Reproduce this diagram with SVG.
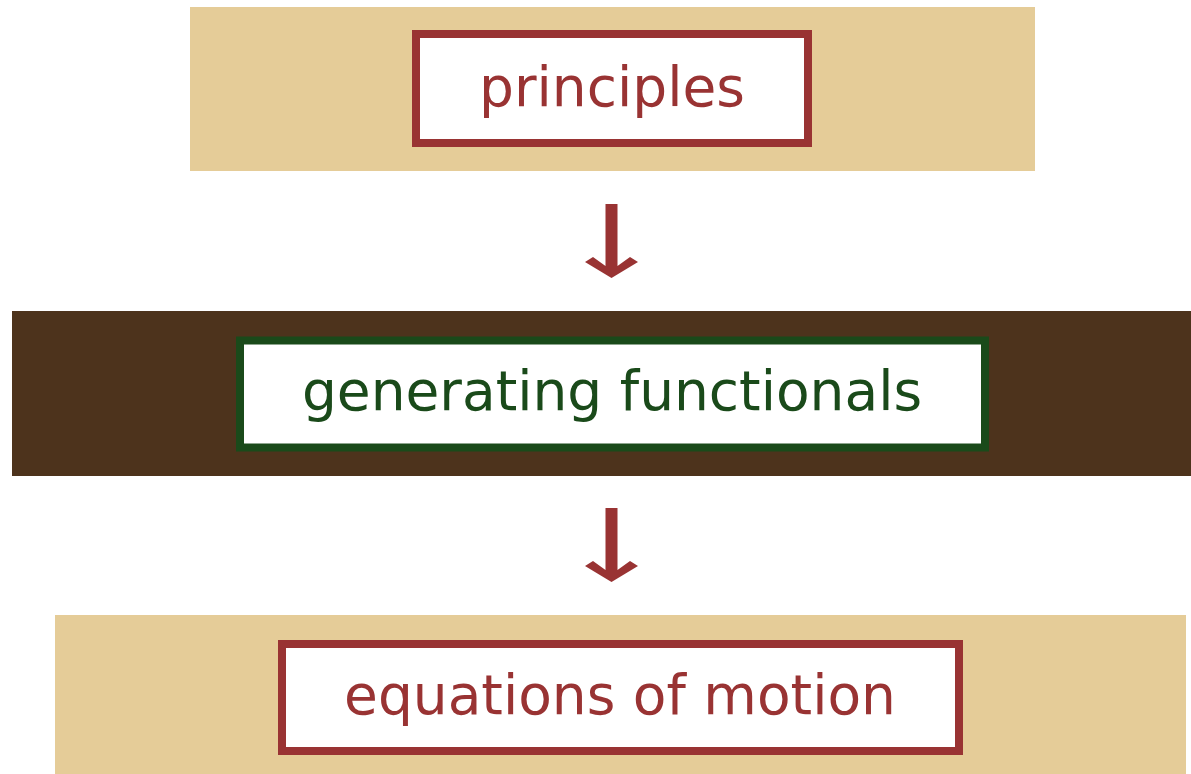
<svg xmlns="http://www.w3.org/2000/svg" width="1191" height="774" viewBox="0 0 1191 774">
<style>
.light{fill:#E5CC98}
.dark{fill:#4D331C}
.box{fill:#fff;stroke-width:8}
.red{stroke:#993333}
.green{stroke:#1A4A1A}
.t{font-family:"DejaVu Sans",sans-serif;font-size:55px;text-anchor:middle}
.tr{fill:#993333}
.tg{fill:#1A4A1A}
.arr{fill:#993333}
</style>
<rect width="1191" height="774" fill="#fff"/>
<g id="principles">
<rect class="light" x="190" y="7" width="845" height="164"/>
<rect class="box red" x="416" y="34" width="392" height="109"/>
<text class="t tr" x="612" y="106">principles</text>
</g>
<g id="generating-functionals">
<rect class="dark" x="12" y="311" width="1179" height="165"/>
<rect class="box green" x="240" y="340.5" width="745" height="107"/>
<text class="t tg" x="612" y="410">generating functionals</text>
</g>
<g id="equations-of-motion">
<rect class="light" x="55" y="615" width="1131" height="159"/>
<rect class="box red" x="282" y="644" width="677" height="107"/>
<text class="t tr" x="620" y="714">equations of motion</text>
</g>
<g id="connectors">
<polygon class="arr" points="605.5,204 617.5,204 617.5,266 630,257 638,262 611.5,278 585,262 593,257 605.5,266"/>
<polygon class="arr" points="605.5,508 617.5,508 617.5,570 630,561 638,566 611.5,582 585,566 593,561 605.5,570"/>
</g>
</svg>
